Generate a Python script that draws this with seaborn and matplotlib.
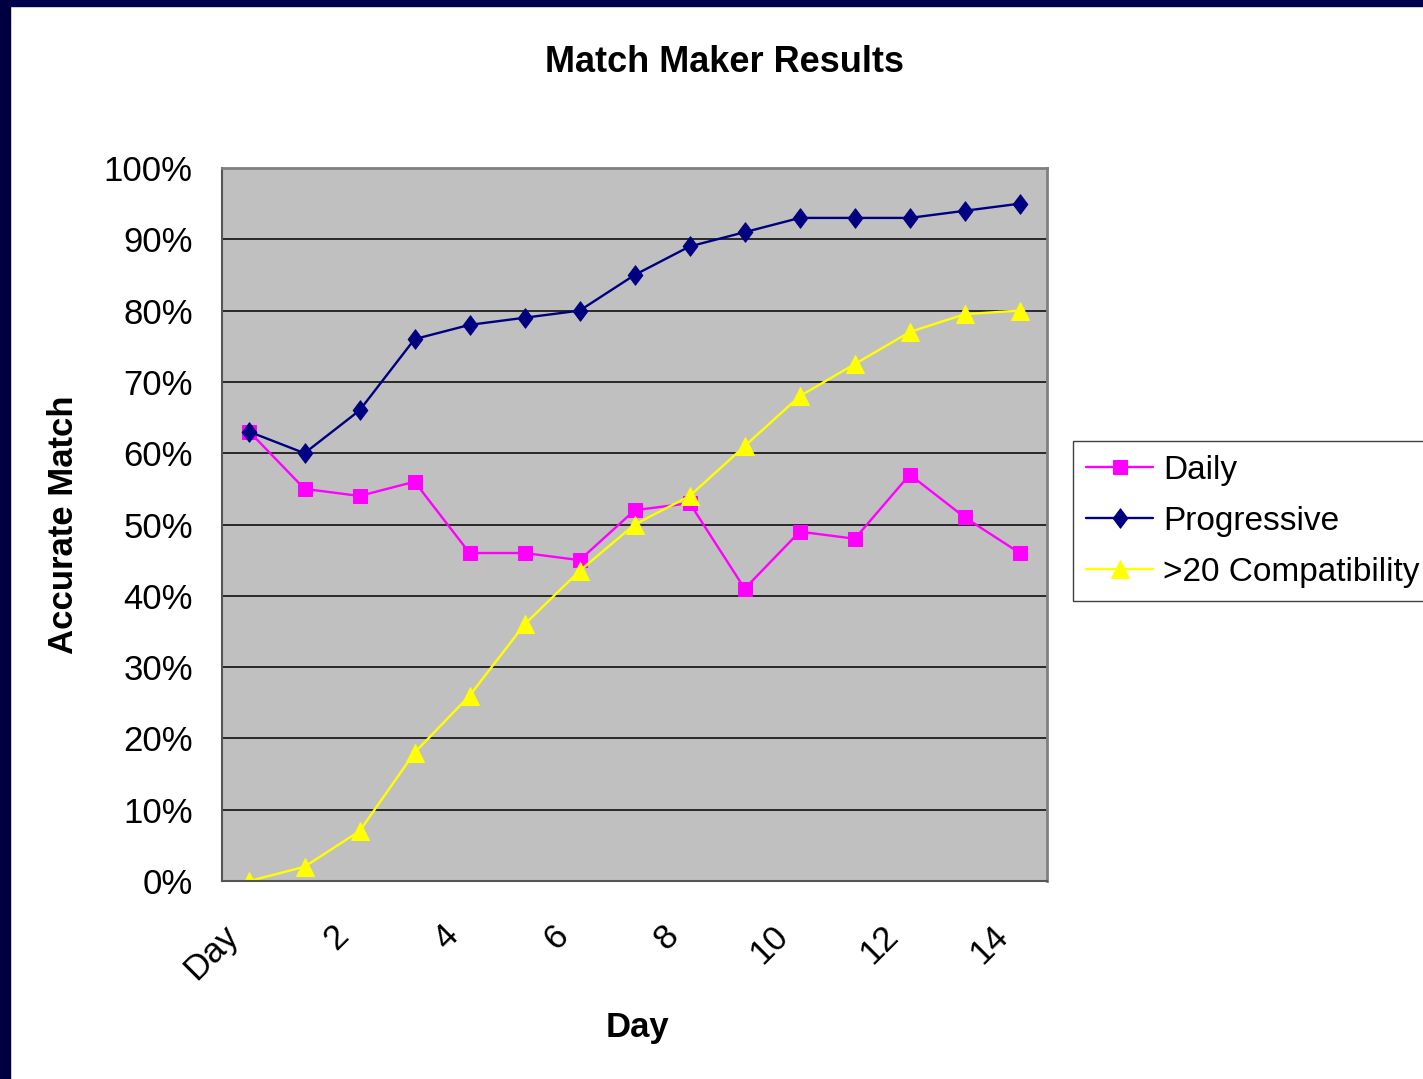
import matplotlib
matplotlib.use("Agg")
import matplotlib.pyplot as plt
import matplotlib.patches as patches
from matplotlib.path import Path
import seaborn as sns
import pandas as pd
import numpy as np

# data
days = ['Day', '1', '2', '3', '4', '5', '6', '7', '8', '9', '10', '11', '12', '13', '14']
daily = [63, 55, 54, 56, 46, 46, 45, 52, 53, 41, 49, 48, 57, 51, 46]
progressive = [63, 60, 66, 76, 78, 79, 80, 85, 89, 91, 93, 93, 93, 94, 95]
compat = [0, 2, 7, 18, 26, 36, 43.5, 50, 54, 61, 68, 72.5, 77, 79.5, 80]
series_names = ['Daily', 'Progressive', '>20 Compatibility']

df = pd.DataFrame({
    'pos': list(range(len(days))) * 3,
    'value': daily + progressive + compat,
    'series': [s for s in series_names for _ in days],
})

sns.set_style('white')
plt.rcParams['font.family'] = ['Liberation Sans', 'DejaVu Sans']
plt.rcParams['text.color'] = 'black'
plt.rcParams['axes.labelcolor'] = 'black'
plt.rcParams['xtick.color'] = 'black'
plt.rcParams['ytick.color'] = 'black'

fig = plt.figure(figsize=(14.23, 10.79), dpi=100)
ax = fig.add_axes([0.156, 0.1835, 0.58, 0.6608])

# Excel-like tall diamond
diamond = Path([(0, 1), (0.75, 0), (0, -1), (-0.75, 0), (0, 1)],
               [Path.MOVETO, Path.LINETO, Path.LINETO, Path.LINETO, Path.CLOSEPOLY])

palette = {'Daily': '#FF00FF', 'Progressive': '#000080', '>20 Compatibility': '#FFFF00'}
markers = {'Daily': 's', 'Progressive': diamond, '>20 Compatibility': '^'}
sizes = {'Daily': 10, 'Progressive': 14, '>20 Compatibility': 13}

for name in series_names:
    sub = df[df['series'] == name]
    sns.lineplot(data=sub, x='pos', y='value', ax=ax, color=palette[name],
                 marker=markers[name], markersize=sizes[name], linewidth=1.7,
                 markeredgecolor=palette[name], label=name, legend=False)

ax.set_facecolor('#C0C0C0')
ax.set_xlim(-0.5, len(days) - 0.5)
ax.set_ylim(0, 100)

ax.set_yticks(np.arange(0, 101, 10))
ax.set_yticklabels([f'{v}%' for v in range(0, 101, 10)], fontsize=25)
ax.yaxis.grid(True, color='black', linewidth=1.1)
ax.set_axisbelow(True)

# labels sit a little left of the category centre, as Excel draws them
ax.set_xticks(np.arange(0, len(days), 2) - 0.3)
ax.set_xticklabels(days[::2], fontsize=25, rotation=45, ha='right', va='center',
                   rotation_mode='anchor')
ax.set_xticks(np.arange(-0.5, len(days), 1), minor=True)
ax.tick_params(axis='x', which='major', length=0, pad=36)
ax.tick_params(axis='x', which='minor', length=9, width=1, color='black', direction='out')
ax.tick_params(axis='y', which='major', length=9, width=1, color='black', direction='out', pad=12)

for side in ['top', 'right']:
    ax.spines[side].set_color('#808080')
    ax.spines[side].set_linewidth(2)
for side in ['left', 'bottom']:
    ax.spines[side].set_color('#555555')
    ax.spines[side].set_linewidth(1.5)

ax.set_xlabel('Day', fontsize=25, fontweight='bold')
ax.set_ylabel('Accurate Match', fontsize=25, fontweight='bold')
ax.xaxis.set_label_coords(0.503, -0.183)
ax.yaxis.set_label_coords(-0.172, 0.5)

fig.text(0.509, 0.9425, 'Match Maker Results', fontsize=26, fontweight='bold',
         ha='center', va='center')

handles, labels = ax.get_legend_handles_labels()
leg = fig.legend(handles, labels, loc='upper left', bbox_to_anchor=(0.754, 0.591),
                 fontsize=24, frameon=True, fancybox=False, framealpha=1,
                 edgecolor='#404040', handlelength=2.0, handletextpad=0.3,
                 borderpad=0.4, labelspacing=0.6, borderaxespad=0)
leg.get_frame().set_linewidth(1)

# navy slide frame on top and left edges
fig.patches.append(patches.Rectangle((0, 0.9945), 1, 0.0055, transform=fig.transFigure,
                                     color='#000050', zorder=0))
fig.patches.append(patches.Rectangle((0, 0), 0.007, 1, transform=fig.transFigure,
                                     color='#000040', zorder=0))

fig.savefig('out.png', dpi=100)
